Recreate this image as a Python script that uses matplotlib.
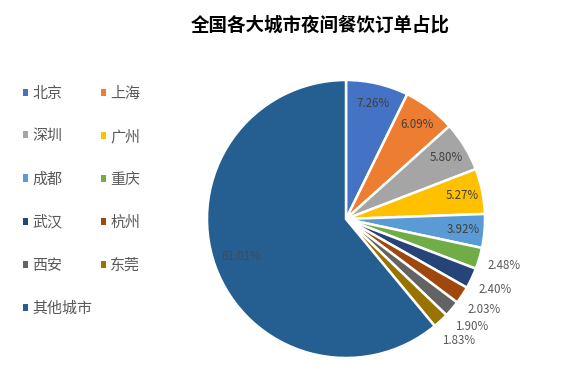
import matplotlib
matplotlib.use("Agg")
import matplotlib.pyplot as plt
from matplotlib.patches import Patch
import numpy as np

plt.rcParams['font.family'] = ['Noto Sans CJK SC', 'DejaVu Sans']

cities = ['北京', '上海', '深圳', '广州', '成都', '重庆', '武汉', '杭州', '西安', '东莞', '其他城市']
shares = [7.26, 6.09, 5.80, 5.27, 3.92, 2.48, 2.40, 2.03, 1.90, 1.83, 61.01]
colors = ['#4472C4', '#ED7D31', '#A5A5A5', '#FFC000', '#5B9BD5', '#70AD47',
          '#264478', '#9E480E', '#636363', '#997300', '#255E91']
title = '全国各大城市夜间餐饮订单占比'

W, H = 566, 375
fig = plt.figure(figsize=(W / 100, H / 100), dpi=100)
fig.patch.set_facecolor('white')

# pie axes: center (346,219) px, radius 139 px
cx, cy, r = 346, 219, 139
half = 160
ax = fig.add_axes([(cx - half) / W, (H - cy - half) / H, 2 * half / W, 2 * half / H])

wedges, _ = ax.pie(shares, colors=colors, startangle=90, counterclock=False,
                   radius=1.0, wedgeprops=dict(edgecolor='white', linewidth=1.8))
ax.set_xlim(-half / r, half / r)
ax.set_ylim(-half / r, half / r)
ax.set_aspect('equal')
ax.axis('off')

cum = 0.0
for i, v in enumerate(shares):
    mid = np.deg2rad(90 - (cum + v / 2) * 3.6)
    cum += v
    if i == len(shares) - 1:
        d, col = 0.80, '#3f4a55'
    elif v >= 3:
        d, col = 0.85, '#404040'
    else:
        d, col = 1.19, '#595959'
    ax.text(d * np.cos(mid), d * np.sin(mid), f'{v:.2f}%', ha='center', va='center',
            fontsize=8.3, color=col)

fig.text(320 / W, 1 - 25 / H, title, ha='center', va='center', fontsize=13.3,
         fontweight='bold', color='black')

handles = [Patch(facecolor=c, edgecolor='none') for c in colors]
order = [0, 2, 4, 6, 8, 10, 1, 3, 5, 7, 9]
leg = fig.legend([handles[i] for i in order], [cities[i] for i in order],
                 ncol=2, loc='upper left', bbox_to_anchor=(9 / W, 1 - 73 / H),
                 frameon=False, fontsize=10.8, handlelength=0.35, handleheight=0.35,
                 handletextpad=0.3, columnspacing=0.55, labelspacing=1.92,
                 labelcolor='#595959')

fig.savefig('out.png', dpi=100, facecolor='white')
